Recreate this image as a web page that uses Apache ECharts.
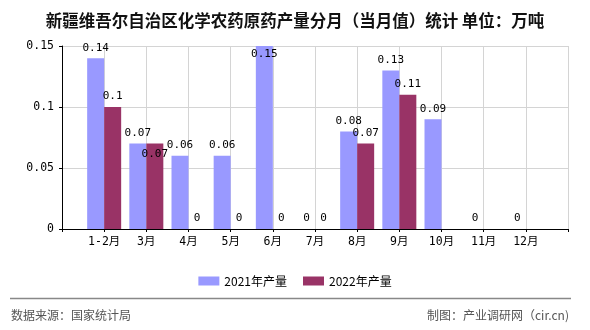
<!DOCTYPE html>
<html>
<head>
<meta charset="utf-8">
<script src="https://cdn.jsdelivr.net/npm/echarts@6/dist/echarts.min.js"></script>
<style>html,body{margin:0;padding:0;background:#fff;}#c{width:590px;height:330px;}</style>
</head>
<body>
<div id="c"></div>
<script>
var titleText = '新疆维吾尔自治区化学农药原药产量分月（当月值）统计 单位：万吨';
var months = ['1-2月', '3月', '4月', '5月', '6月', '7月', '8月', '9月', '10月', '11月', '12月'];
var seriesNames = ['2021年产量', '2022年产量'];
var v2021 = [0.14, 0.07, 0.06, 0.06, 0.15, 0, 0.08, 0.13, 0.09, 0, 0];
var v2022 = [0.10, 0.07, 0, 0, 0, 0, 0.07, 0.11, null, null, null];
var yTicks = [0, 0.05, 0.1, 0.15];
var sourceText = '数据来源：国家统计局';
var creditText = '制图：产业调研网（cir.cn)';

var colors = ['#9999FF', '#993366'];
var yMax = yTicks[yTicks.length - 1];
var monoFont = "'DejaVu Sans Mono', 'Noto Sans CJK SC', monospace";
var cjkFont = "'Noto Sans CJK SC', 'Liberation Sans', sans-serif";

var axisCats = [''].concat(months, ['']);

function buildData(vals, other) {
  var out = [null];
  vals.forEach(function (v, i) {
    if (v === null) { out.push(null); return; }
    var item = { value: v };
    if (v >= yMax) {
      item.label = { position: 'insideTop', distance: 3 };
    } else if (other && other[i] !== null && other[i] === v && v > 0) {
      item.label = { offset: [0, 21] };
    }
    out.push(item);
  });
  out.push(null);
  return out;
}

var chart = echarts.init(document.getElementById('c'), null, { renderer: 'canvas' });
chart.setOption({
  animation: false,
  backgroundColor: '#fff',
  title: {
    text: titleText,
    left: 'center',
    top: 7,
    textStyle: { fontFamily: cjkFont, fontSize: 16.5, fontWeight: 'bold', color: '#111' }
  },
  legend: {
    data: seriesNames,
    top: 270,
    left: 'center',
    itemWidth: 21,
    itemHeight: 9,
    itemGap: 16,
    icon: 'rect',
    textStyle: { fontFamily: cjkFont, fontSize: 12, color: '#000' }
  },
  grid: { left: 62, right: 22, top: 46, bottom: 101, containLabel: false },
  xAxis: {
    type: 'category',
    data: axisCats,
    boundaryGap: false,
    axisLine: { lineStyle: { color: '#000', width: 1 } },
    axisTick: { show: true, length: 3, lineStyle: { color: '#000' } },
    axisLabel: { interval: 0, margin: 7, fontFamily: monoFont, fontSize: 11.5, color: '#000' },
    splitLine: { show: true, lineStyle: { color: '#d4d4d4', width: 1 } }
  },
  yAxis: {
    type: 'value',
    min: 0,
    max: yMax,
    interval: 0.05,
    axisLine: { show: true, lineStyle: { color: '#000', width: 1 } },
    axisTick: { show: true, length: 3, lineStyle: { color: '#000' } },
    axisLabel: { margin: 8, fontFamily: monoFont, fontSize: 11.5, color: '#000' },
    splitLine: { show: true, lineStyle: { color: '#d4d4d4', width: 1 } }
  },
  series: [
    {
      name: seriesNames[0],
      type: 'bar',
      barWidth: 17,
      barGap: '0%',
      itemStyle: { color: colors[0] },
      label: { show: true, position: 'top', distance: 5, fontFamily: monoFont, fontSize: 11, color: '#000' },
      data: buildData(v2021, null)
    },
    {
      name: seriesNames[1],
      type: 'bar',
      barWidth: 17,
      barGap: '0%',
      itemStyle: { color: colors[1] },
      label: { show: true, position: 'top', distance: 5, fontFamily: monoFont, fontSize: 11, color: '#000' },
      data: buildData(v2022, v2021)
    }
  ],
  graphic: [
    {
      type: 'line',
      shape: { x1: 10, y1: 298.5, x2: 571, y2: 298.5 },
      style: { stroke: '#888', lineWidth: 1.5 }
    },
    {
      type: 'text',
      left: 11,
      top: 309,
      style: { text: sourceText, font: "12px 'Noto Sans CJK SC', sans-serif", fill: '#555' }
    },
    {
      type: 'text',
      right: 21,
      top: 309,
      style: { text: creditText, font: "12px 'Noto Sans CJK SC', sans-serif", fill: '#555' }
    }
  ]
});
</script>
</body>
</html>
